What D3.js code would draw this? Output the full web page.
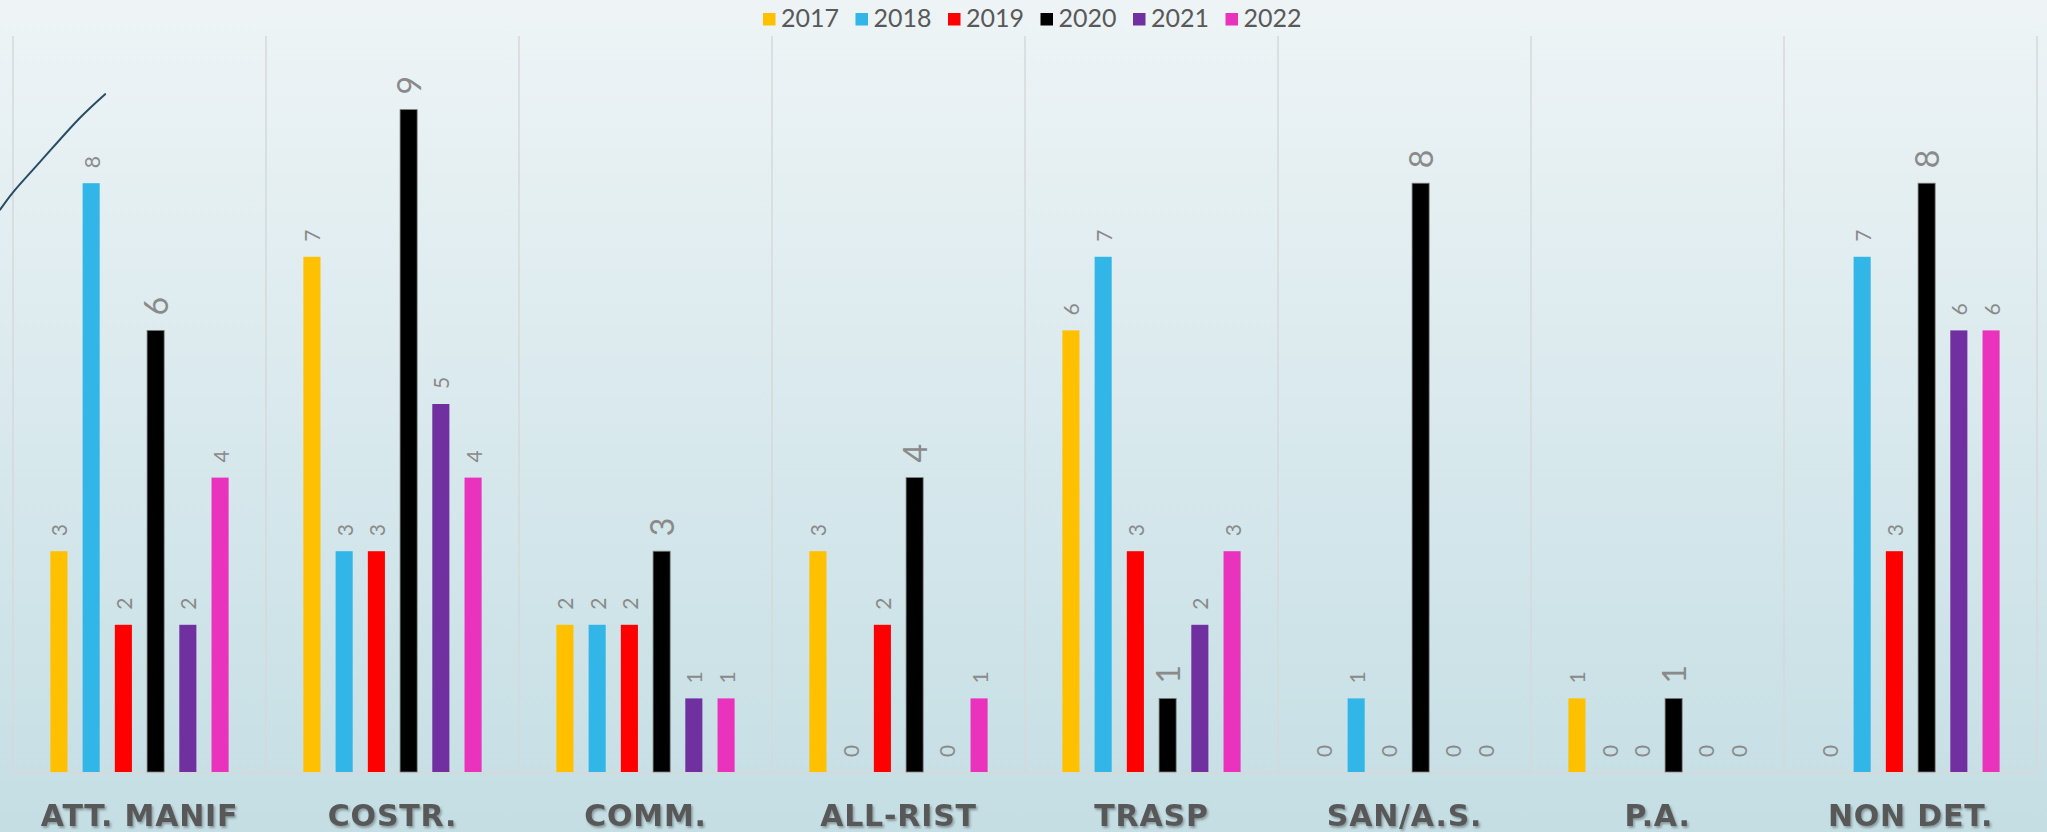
<!DOCTYPE html>
<html>
<head>
<meta charset="utf-8">
<script src="https://cdn.jsdelivr.net/npm/d3@7"></script>
<style>
  html, body { margin: 0; padding: 0; overflow: hidden; }
  #chart { width: 2047px; height: 832px; }
</style>
</head>
<body>
<div id="chart"></div>
<script>
let categories = ['ATT. MANIF', 'COSTR.', 'COMM.', 'ALL-RIST', 'TRASP', 'SAN/A.S.', 'P.A.', 'NON DET.'];
let years = ['2017', '2018', '2019', '2020', '2021', '2022'];
let values2017 = [3, 7, 2, 3, 6, 0, 1, 0];
let values2018 = [8, 3, 2, 0, 7, 1, 0, 7];
let values2019 = [2, 3, 2, 2, 3, 0, 0, 3];
let values2020 = [6, 9, 3, 4, 1, 8, 1, 8];
let values2021 = [2, 5, 1, 0, 2, 0, 0, 6];
let values2022 = [4, 4, 1, 1, 3, 0, 0, 6];
let yearColors = ['#ffc000', '#31b6e7', '#ff0000', '#000000', '#7030a0', '#e933bd'];
// stray line at top left, [category position, value]
let traceLine = [[-0.051, 7.64], [-0.004, 7.86], [0.107, 8.29], [0.265, 8.89], [0.364, 9.21]];

let series = [values2017, values2018, values2019, values2020, values2021, values2022];

let width = 2047;
let height = 832;
let plot = {left: 13, right: 2037, top: 36, bottom: 772};

let svg = d3.select('#chart').append('svg')
  .attr('width', width)
  .attr('height', height);

let defs = svg.append('defs');

// background gradient
let bg = defs.append('linearGradient')
  .attr('id', 'bg')
  .attr('x1', '0%').attr('y1', '0%')
  .attr('x2', '0%').attr('y2', '100%');
bg.append('stop').attr('offset', '0%').attr('stop-color', '#eef4f6');
bg.append('stop').attr('offset', '100%').attr('stop-color', '#c4dee4');

let shadow = defs.append('filter')
  .attr('id', 'shadow')
  .attr('x', '-10%').attr('y', '-30%')
  .attr('width', '120%').attr('height', '160%');
shadow.append('feDropShadow')
  .attr('dx', 1.5).attr('dy', 2)
  .attr('stdDeviation', 1.2)
  .attr('flood-color', '#7a8a8e')
  .attr('flood-opacity', 0.8);

svg.append('rect')
  .attr('width', width)
  .attr('height', height)
  .attr('fill', 'url(#bg)');

let x0 = d3.scaleBand()
  .domain(categories)
  .range([plot.left, plot.right])
  .padding(0);

let x1 = d3.scaleBand()
  .domain(years)
  .range([0, x0.bandwidth()])
  .paddingInner(0.47)
  .paddingOuter(1.16);

let y = d3.scaleLinear()
  .domain([0, 10])
  .range([plot.bottom, plot.top]);

let xPos = d3.scaleLinear()
  .domain([0, categories.length])
  .range([plot.left, plot.right]);

// vertical grid lines between categories
let edges = categories.map(c => x0(c)).concat([plot.right]);
svg.append('g')
  .selectAll('line')
  .data(edges)
  .enter().append('line')
  .attr('x1', d => d).attr('x2', d => d)
  .attr('y1', plot.top).attr('y2', plot.bottom)
  .attr('stroke', '#d6d9da')
  .attr('stroke-width', 1.5);

svg.append('line')
  .attr('x1', plot.left).attr('x2', plot.right)
  .attr('y1', plot.bottom + 0.5).attr('y2', plot.bottom + 0.5)
  .attr('stroke', '#d6d9da')
  .attr('stroke-width', 2);

// bars
let groups = svg.selectAll('.group')
  .data(categories)
  .enter().append('g')
  .attr('class', 'group')
  .attr('transform', d => `translate(${x0(d)},0)`);

groups.selectAll('rect')
  .data((c, i) => years.map((yr, j) => ({year: yr, idx: j, value: series[j][i]})))
  .enter().append('rect')
  .attr('x', d => x1(d.year))
  .attr('width', x1.bandwidth())
  .attr('y', d => y(d.value))
  .attr('height', d => plot.bottom - y(d.value))
  .attr('fill', d => yearColors[d.idx])
  .attr('stroke', d => d.idx === 3 ? '#7f7f7f' : 'none')
  .attr('stroke-width', 0.8);

// value labels, rotated
groups.selectAll('text')
  .data((c, i) => years.map((yr, j) => ({year: yr, idx: j, value: series[j][i]})))
  .enter().append('text')
  .attr('transform', d => `translate(${x1(d.year) + x1.bandwidth() / 2},${y(d.value) - 15}) rotate(-90)`)
  .attr('dominant-baseline', 'central')
  .attr('text-anchor', 'start')
  .attr('font-family', 'Lato, "DejaVu Sans", sans-serif')
  .attr('font-size', d => d.idx === 3 ? 32 : 21)
  .attr('fill', '#8a8a8a')
  .text(d => d.value);

// stray line
let line = d3.line()
  .x(d => xPos(d[0]))
  .y(d => y(d[1]))
  .curve(d3.curveCatmullRom);
svg.append('path')
  .datum(traceLine)
  .attr('d', line)
  .attr('fill', 'none')
  .attr('stroke', '#2a4d66')
  .attr('stroke-width', 2)
  .attr('stroke-linecap', 'round');

// add the x Axis
let xAxis = svg.append('g')
  .attr('transform', `translate(0,${plot.bottom})`)
  .call(d3.axisBottom(x0).tickSize(0).tickPadding(0));
xAxis.select('.domain').remove();
xAxis.selectAll('text')
  .attr('y', 54)
  .attr('dy', 0)
  .attr('font-family', '"DejaVu Sans", sans-serif')
  .attr('font-weight', 'bold')
  .attr('font-size', 30)
  .attr('letter-spacing', 0.8)
  .attr('fill', '#595959')
  .attr('filter', 'url(#shadow)');

// legend
let legend = svg.append('g')
  .attr('transform', 'translate(763,0)');
let item = legend.selectAll('g')
  .data(years)
  .enter().append('g')
  .attr('transform', (d, i) => `translate(${i * 92.5},0)`);
item.append('rect')
  .attr('y', 13)
  .attr('width', 12.5)
  .attr('height', 12.5)
  .attr('fill', (d, i) => yearColors[i]);
item.append('text')
  .attr('x', 18)
  .attr('y', 27)
  .attr('font-family', 'Lato, "DejaVu Sans", sans-serif')
  .attr('font-size', 25)
  .attr('fill', '#595959')
  .text(d => d);
</script>
</body>
</html>
